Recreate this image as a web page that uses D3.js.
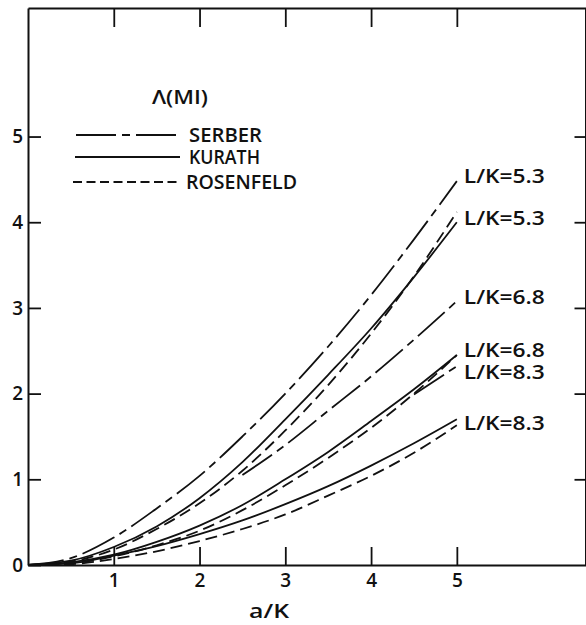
<!DOCTYPE html>
<html>
<head>
<meta charset="utf-8">
<script src="https://cdn.jsdelivr.net/npm/d3@7"></script>
<style>
  body { margin: 0; background: #fff; }
  svg { display: block; }
  text { font-family: 'Open Sans', 'DejaVu Sans', sans-serif; font-weight: 600; fill: #111; }
</style>
</head>
<body>
<svg></svg>
<script>
// a/K values where the curves were read
let aK = [0, 0.5, 1, 1.5, 2, 2.5, 3, 3.5, 4, 4.5, 5]

// Lambda(M1), null = curve not drawn there
let serber53 = [0, 0.08, 0.32, 0.66, 1.04, 1.5, 2.0, 2.55, 3.15, 3.8, 4.48]
let kurath53 = [0, 0.05, 0.21, 0.45, 0.78, 1.2, 1.7, 2.22, 2.76, 3.36, 4.0]
let rosen53  = [0, 0.04, 0.18, 0.42, 0.72, 1.1, 1.57, 2.1, 2.7, 3.37, 4.12]
let serber68 = [null, null, null, null, null, 1.05, 1.40, 1.8, 2.2, 2.63, 3.08]
let kurath68 = [0, 0.03, 0.12, 0.27, 0.46, 0.70, 1.0, 1.32, 1.68, 2.05, 2.45]
let rosen68  = [0, 0.02, 0.10, 0.23, 0.40, 0.64, 0.93, 1.25, 1.6, 2.0, 2.45]
let serber83 = [null, null, null, null, null, null, null, null, null, 1.99, 2.32]
let kurath83 = [0, 0.02, 0.11, 0.22, 0.36, 0.52, 0.71, 0.92, 1.16, 1.42, 1.70]
let rosen83  = [0, 0.01, 0.07, 0.16, 0.28, 0.42, 0.59, 0.81, 1.04, 1.31, 1.63]

let xTicks = [1, 2, 3, 4, 5]
let yTicks = [0, 1, 2, 3, 4, 5]

let models = ['SERBER', 'KURATH', 'ROSENFELD']
let curveLabels = ['L/K=5.3', 'L/K=5.3', 'L/K=6.8', 'L/K=6.8', 'L/K=8.3', 'L/K=8.3']
let curveLabelAt = [4.54, 4.05, 3.12, 2.51, 2.25, 1.66]

let width = 586
let height = 625

let svg = d3.select('svg')
    .attr('width', width)
    .attr('height', height)

let xScale = d3.scaleLinear().domain([0, 6.5]).range([28, 585.5])
let yScale = d3.scaleLinear().domain([0, 6.5]).range([565, 8])

let dashes = {
    SERBER: '36,6,8,6',
    KURATH: null,
    ROSENFELD: '12,6'
}

let series = [
    { model: 'SERBER', values: serber53 },
    { model: 'KURATH', values: kurath53 },
    { model: 'ROSENFELD', values: rosen53 },
    { model: 'SERBER', values: serber68 },
    { model: 'KURATH', values: kurath68 },
    { model: 'ROSENFELD', values: rosen68 },
    { model: 'SERBER', values: serber83 },
    { model: 'KURATH', values: kurath83 },
    { model: 'ROSENFELD', values: rosen83 }
]

let drawAxes = () => {
    let bottom = d3.axisBottom(xScale)
        .tickValues(xTicks)
        .tickFormat(d3.format('d'))
        .tickSizeInner(-18)
        .tickSizeOuter(0)
        .tickPadding(9)
    let top = d3.axisTop(xScale)
        .tickValues(xTicks)
        .tickFormat('')
        .tickSizeInner(-19)
        .tickSizeOuter(0)
    let left = d3.axisLeft(yScale)
        .tickValues(yTicks)
        .tickFormat(d3.format('d'))
        .tickSizeInner(-13)
        .tickSizeOuter(0)
        .tickPadding(5)
    let right = d3.axisRight(yScale)
        .tickValues(yTicks.slice(1))
        .tickFormat('')
        .tickSizeInner(-11)
        .tickSizeOuter(0)

    svg.append('g')
       .attr('transform', 'translate(0,' + yScale(0) + ')')
       .call(bottom)
    svg.append('g')
       .attr('transform', 'translate(0,' + yScale(6.5) + ')')
       .call(top)
    svg.append('g')
       .attr('transform', 'translate(' + xScale(0) + ',0)')
       .call(left)
    svg.append('g')
       .attr('transform', 'translate(' + xScale(6.5) + ',0)')
       .call(right)

    svg.selectAll('.domain')
       .attr('stroke', '#111')
       .attr('stroke-width', 2)
    svg.selectAll('.tick line')
       .attr('stroke', '#111')
       .attr('stroke-width', 1.8)
    svg.selectAll('.tick text')
       .style('font-family', "'Open Sans', 'DejaVu Sans', sans-serif")
       .style('font-weight', '600')
       .style('font-size', '19px')
       .attr('fill', '#111')

    svg.append('text')
       .attr('x', 269)
       .attr('y', 618)
       .attr('text-anchor', 'middle')
       .attr('textLength', 40)
       .attr('lengthAdjust', 'spacingAndGlyphs')
       .style('font-size', '19px')
       .text('a/K')
}

let drawCurves = () => {
    let line = d3.line()
        .defined((d) => d[1] != null)
        .x((d) => xScale(d[0]))
        .y((d) => yScale(d[1]))
        .curve(d3.curveMonotoneX)

    svg.selectAll('.curve')
       .data(series)
       .enter()
       .append('path')
       .attr('class', 'curve')
       .attr('fill', 'none')
       .attr('stroke', '#111')
       .attr('stroke-width', 1.8)
       .attr('stroke-dasharray', (item) => dashes[item.model])
       .attr('d', (item) => line(aK.map((a, i) => [a, item.values[i]])))

    svg.selectAll('.lk')
       .data(curveLabels)
       .enter()
       .append('text')
       .attr('class', 'lk')
       .attr('x', xScale(5) + 7)
       .attr('y', (item, i) => yScale(curveLabelAt[i]))
       .attr('dy', '0.36em')
       .attr('textLength', 81)
       .attr('lengthAdjust', 'spacingAndGlyphs')
       .style('font-size', '19px')
       .text((item) => item)
}

let drawLegend = () => {
    svg.append('text')
       .attr('x', 180)
       .attr('y', 104)
       .attr('text-anchor', 'middle')
       .attr('textLength', 56)
       .attr('lengthAdjust', 'spacingAndGlyphs')
       .style('font-size', '20px')
       .text('\u039B(MI)')

    let rows = [135, 157, 182]
    let starts = [76, 75, 73]
    let textWidths = [73, 71, 111]
    let legendDash = { SERBER: '40,6,8,6', KURATH: null, ROSENFELD: '9,4.5' }

    models.forEach((m, i) => {
        svg.append('line')
           .attr('x1', starts[i])
           .attr('x2', 180)
           .attr('y1', rows[i])
           .attr('y2', rows[i])
           .attr('stroke', '#111')
           .attr('stroke-width', 1.8)
           .attr('stroke-dasharray', legendDash[m])
        svg.append('text')
           .attr('x', i == 2 ? 186 : 189)
           .attr('y', rows[i])
           .attr('dy', '0.36em')
           .attr('textLength', textWidths[i])
           .attr('lengthAdjust', 'spacingAndGlyphs')
           .style('font-size', '19px')
           .text(m)
    })
}

drawAxes()
drawCurves()
drawLegend()
</script>
</body>
</html>
